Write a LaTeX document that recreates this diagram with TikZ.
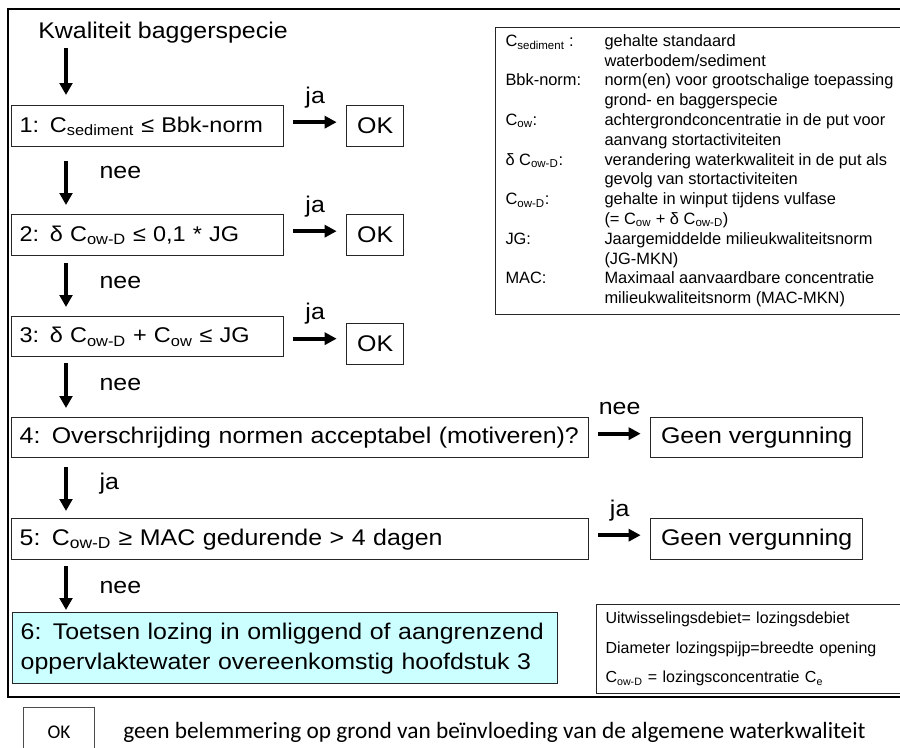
\documentclass[tikz,border=0pt]{standalone}
\usepackage{fontspec}
\setmainfont{Liberation Sans}
\newfontfamily\boxfont{Liberation Sans}[FakeStretch=1.1]
\newfontfamily\notefont{Carlito}
\usetikzlibrary{arrows.meta}
\definecolor{lichtblauw}{RGB}{204,255,255}

\begin{document}
\begin{tikzpicture}[x=0.75pt, y=-0.75pt,
  kader/.style={draw=black, line width=1.8pt},
  stap/.style={draw=black!85, line width=1pt, anchor=north west, align=left, inner xsep=6pt, inner ysep=0pt, font=\boxfont\fontsize{17}{22.5}\selectfont},
  kleinestap/.style={stap, font=\boxfont\fontsize{16}{20}\selectfont},
  uitkomst/.style={draw=black!85, line width=1pt, anchor=north west, inner sep=0pt, font=\boxfont\fontsize{17}{22.5}\selectfont},
  tekst/.style={inner sep=0pt, font=\boxfont\fontsize{17}{22.5}\selectfont},
  omlaag/.style={line width=2.4pt, -{Triangle[length=9pt, width=9.5pt]}},
  rechts/.style={line width=3pt, -{Triangle[length=9pt, width=9pt]}, shorten <=6.5pt, shorten >=7pt},
  legenda/.style={draw=black!85, line width=0.8pt, anchor=north west}]
  \clip (0,0) rectangle (900,747);
  \draw[kader] (8,9) rectangle (910,697);

  \node[tekst] (titel) at (163,33) {Kwaliteit baggerspecie};
  \coordinate (kolom) at (66,0);

  \node[kleinestap, text width=192pt, minimum height=30.75pt] (stap1) at (11,105) {1: C\textsubscript{sediment} ≤ Bbk-norm};
  \node[kleinestap, text width=192pt, minimum height=30.75pt] (stap2) at (11,214) {2: δ C\textsubscript{ow-D} ≤ 0,1 * JG};
  \node[kleinestap, text width=192pt, minimum height=30pt] (stap3) at (11,316) {3: δ C\textsubscript{ow-D} + C\textsubscript{ow} ≤ JG};
  \node[stap, text width=420.75pt, minimum height=30pt] (stap4) at (11,417) {4: Overschrijding normen acceptabel (motiveren)?};
  \node[stap, text width=420.75pt, minimum height=30.75pt] (stap5) at (11,518) {5: C\textsubscript{ow-D} ≥ MAC gedurende > 4 dagen};
  \node[stap, fill=lichtblauw, text width=396.75pt, minimum height=53.25pt] (stap6) at (12,612) {6: Toetsen lozing in omliggend of aangrenzend\\oppervlaktewater overeenkomstig hoofdstuk 3};

  \node[uitkomst, minimum width=42.75pt, minimum height=30.75pt] (ok1) at (346,105) {OK};
  \node[uitkomst, minimum width=42.75pt, minimum height=30.75pt] (ok2) at (346,214) {OK};
  \node[uitkomst, minimum width=42.75pt, minimum height=30.75pt] (ok3) at (346,323) {OK};
  \node[uitkomst, minimum width=159pt, minimum height=30pt] (geen4) at (650,417) {Geen vergunning};
  \node[uitkomst, minimum width=159pt, minimum height=30.75pt] (geen5) at (650,518) {Geen vergunning};

  % stappen onder elkaar
  \draw[omlaag, shorten <=3.2pt, shorten >=7.5pt] (titel.south -| kolom) -- (stap1.north -| kolom);
  \draw[omlaag, shorten <=10.5pt, shorten >=6.75pt] (stap1.south -| kolom) -- node[tekst, pos=0.47, anchor=base west, xshift=24pt] (nee1) {nee} (stap2.north -| kolom);
  \draw[omlaag, shorten <=5.25pt, shorten >=6.75pt] (stap2.south -| kolom) -- node[tekst, pos=0.54, anchor=base west, xshift=24pt] (nee2) {nee} (stap3.north -| kolom);
  \draw[omlaag, shorten <=4.5pt, shorten >=6.75pt] (stap3.south -| kolom) -- node[tekst, pos=0.56, anchor=base west, xshift=24pt] (nee3) {nee} (stap4.north -| kolom);
  \draw[omlaag, shorten <=6.75pt, shorten >=5.25pt] (stap4.south -| kolom) -- node[tekst, pos=0.52, anchor=base west, xshift=24pt] (ja4) {ja} (stap5.north -| kolom);
  \draw[omlaag, shorten <=4.5pt, shorten >=1.5pt] (stap5.south -| kolom) -- node[tekst, pos=0.64, anchor=base west, xshift=24pt] (nee5) {nee} (stap6.north -| kolom);

  % uitkomsten
  \draw[rechts] ([yshift=3pt]stap1.east) -- node[tekst, anchor=base, yshift=14.25pt] (ja1) {ja} ([yshift=3pt]stap1.east -| ok1.west);
  \draw[rechts] ([yshift=3pt]stap2.east) -- node[tekst, anchor=base, yshift=14.25pt] (ja2) {ja} ([yshift=3pt]stap2.east -| ok2.west);
  \draw[rechts] ([yshift=-1.5pt]stap3.east) -- node[tekst, anchor=base, yshift=14.25pt] (ja3) {ja} ([yshift=-1.5pt]stap3.east -| ok3.west);
  \draw[rechts] ([yshift=3pt]stap4.east) -- node[tekst, anchor=base, yshift=14.25pt] (nee6) {nee} ([yshift=3pt]stap4.east -| geen4.west);
  \draw[rechts] ([yshift=3pt]stap5.east) -- node[tekst, anchor=base, yshift=14.25pt] (ja5) {ja} ([yshift=3pt]stap5.east -| geen5.west);

  % legenda
  \node[legenda, inner xsep=7.5pt, inner ysep=3.75pt, font=\fontsize{12.3}{14.85}\selectfont] (begrippen) at (495,27) {%
    \begin{tabular}{@{}p{74.25pt}@{}p{224pt}@{}}
      C\textsubscript{sediment} : & gehalte standaard\\
      & waterbodem/sediment\\
      Bbk-norm: & norm(en) voor grootschalige toepassing\\
      & grond- en baggerspecie\\
      C\textsubscript{ow}: & achtergrondconcentratie in de put voor\\
      & aanvang stortactiviteiten\\
      δ C\textsubscript{ow-D}: & verandering waterkwaliteit in de put als\\
      & gevolg van stortactiviteiten\\
      C\textsubscript{ow-D}: & gehalte in winput tijdens vulfase\\
      & (= C\textsubscript{ow} + δ C\textsubscript{ow-D})\\
      JG: & Jaargemiddelde milieukwaliteitsnorm\\
      & (JG-MKN)\\
      MAC: & Maximaal aanvaardbare concentratie\\
      & milieukwaliteitsnorm (MAC-MKN)
    \end{tabular}};
  \node[legenda, text width=230pt, align=left, inner xsep=6.75pt, minimum height=66.75pt, font=\fontsize{12}{22.1}\selectfont] (lozing) at (596,604) {Uitwisselingsdebiet= lozingsdebiet\\Diameter lozingspijp=breedte opening\\C\textsubscript{ow-D} = lozingsconcentratie C\textsubscript{e}};

  % verklaring onder het kader
  \node[draw=black!70, line width=0.8pt, anchor=north west, minimum width=53.25pt, minimum height=37.5pt, inner sep=0pt, font=\notefont\fontsize{14.5}{16}\selectfont] (okteken) at (23,707) {OK};
  \node[anchor=base west, inner sep=0pt, font=\notefont\fontsize{17.5}{20}\selectfont] (uitleg) at (123,738) {geen belemmering op grond van beïnvloeding van de algemene waterkwaliteit};
\end{tikzpicture}
\end{document}
